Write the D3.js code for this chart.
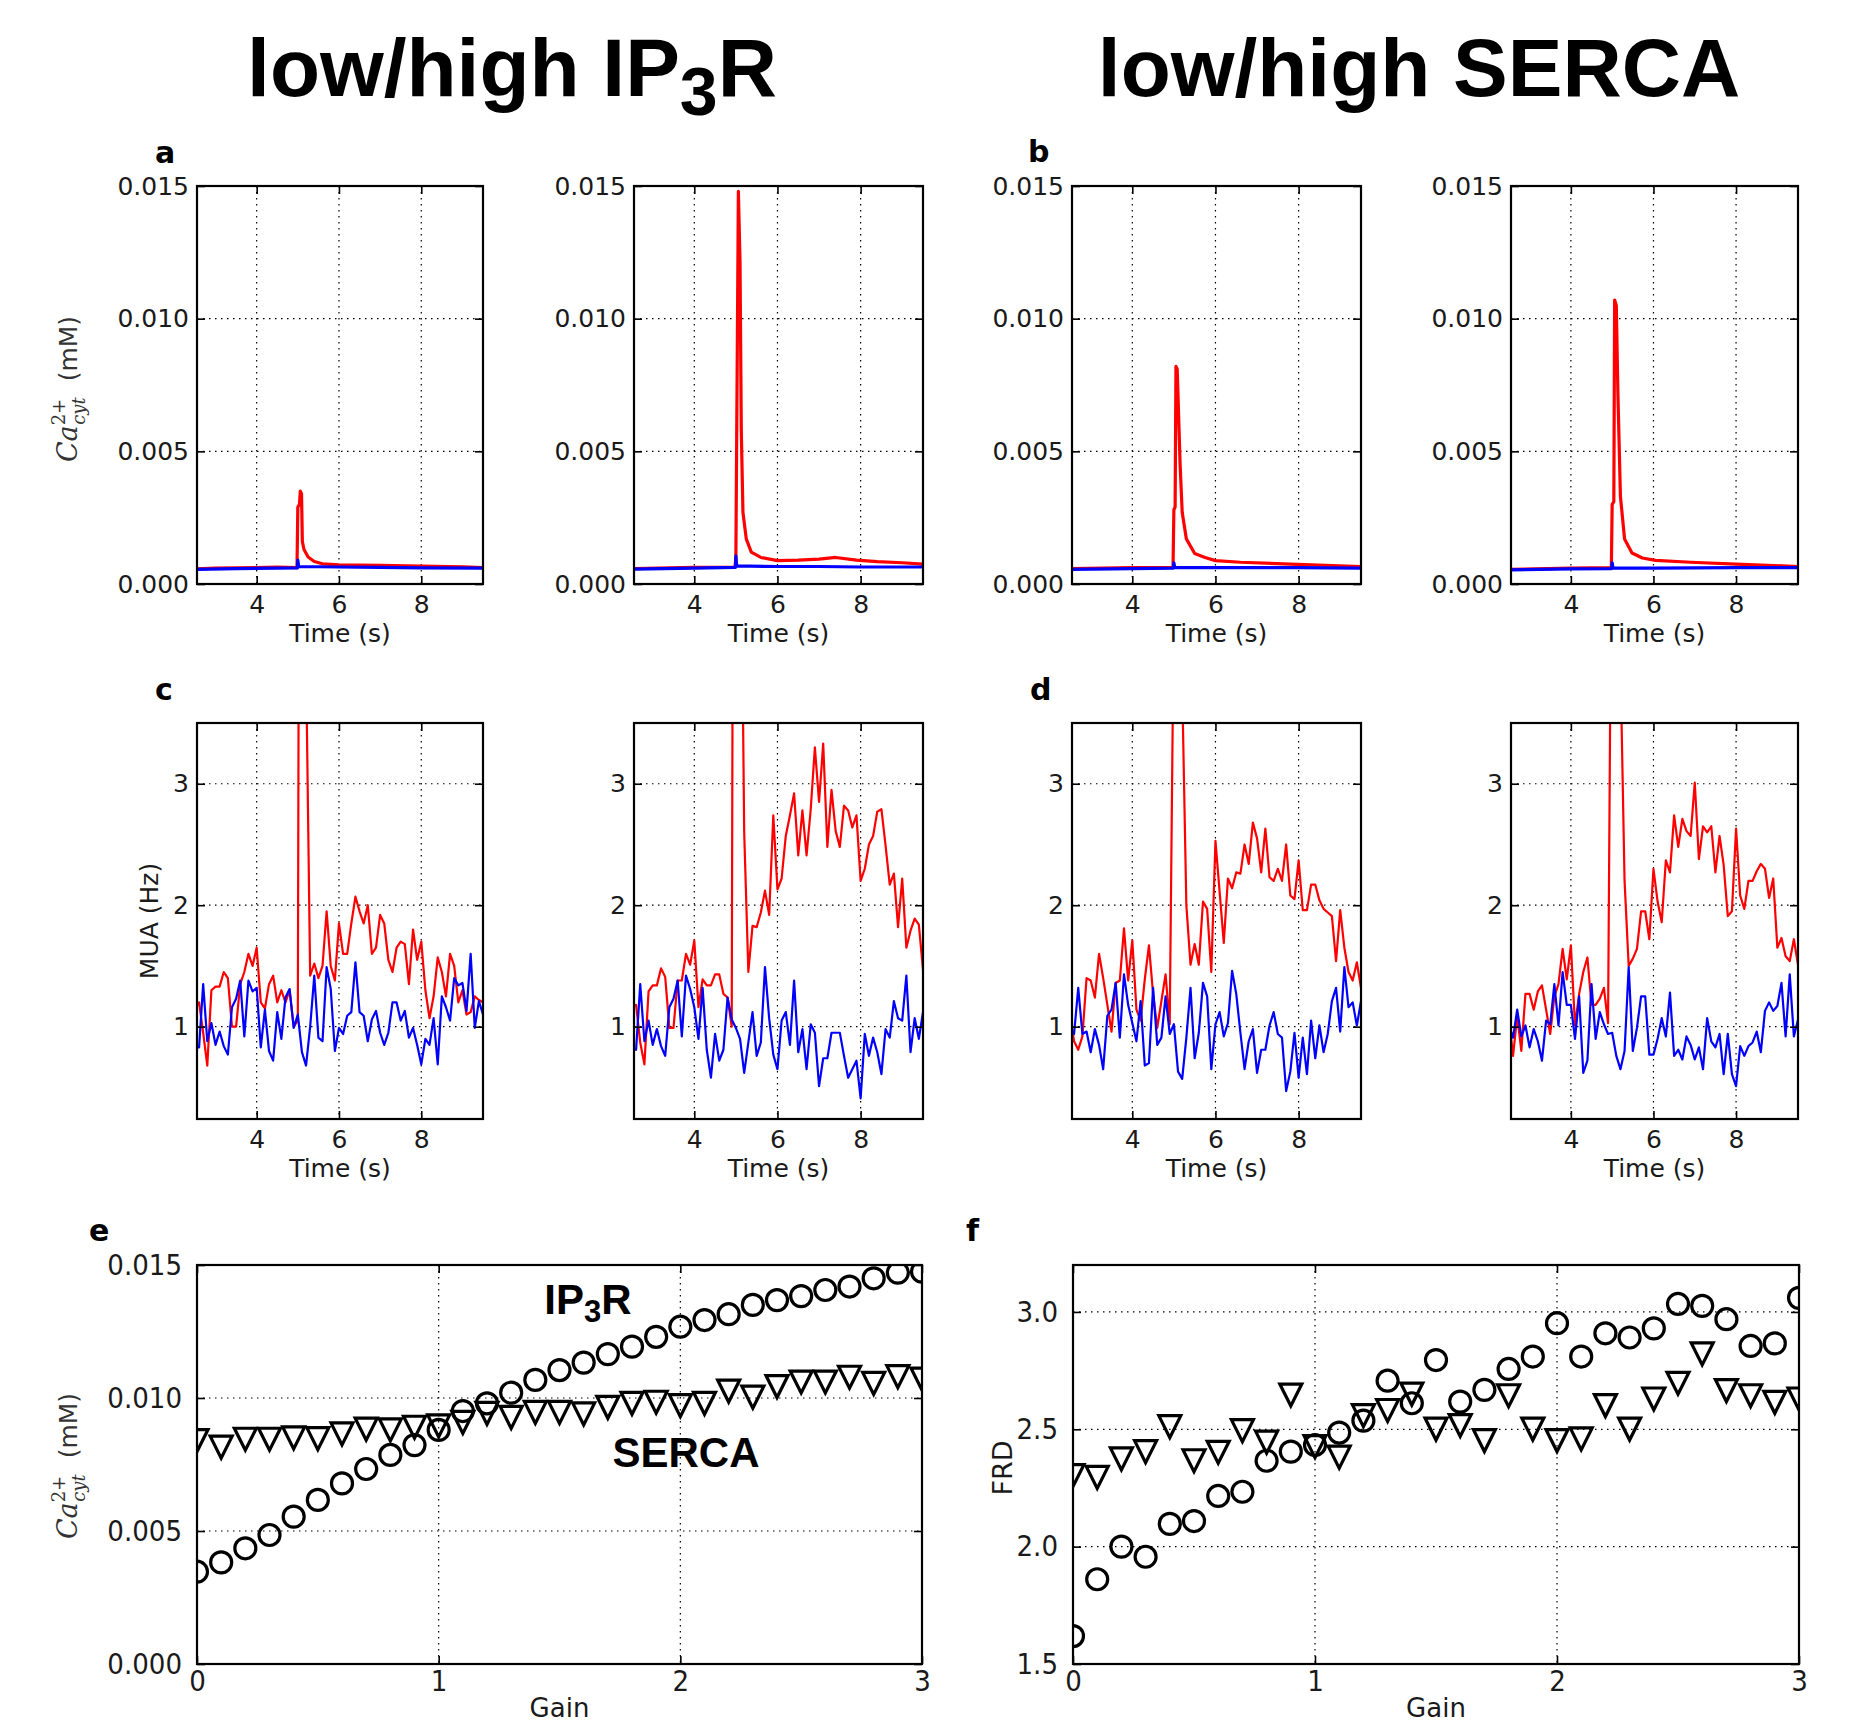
<!DOCTYPE html>
<html>
<head>
<meta charset="utf-8">
<script src="https://cdn.jsdelivr.net/npm/d3@7"></script>
<style>
  body { margin: 0; background: #fff; }
  svg { display: block; background: #fff; }
  .grid line { stroke: #000; stroke-width: 1.2; stroke-dasharray: 1.5 4.5; }
  .tick line { stroke: #000; stroke-width: 1.6; }
  .frame { fill: none; stroke: #000; stroke-width: 2.2; }
</style>
</head>
<body>
<div id="chart"></div>
<script>
// ---- values ----

// MUA traces are binned every 0.1 s
const muaTime = [2.5,2.6,2.7,2.8,2.9,3.0,3.1,3.2,3.3,3.4,3.5,3.6,3.7,3.8,3.9,4.0,4.1,4.2,4.3,4.4,
  4.5,4.6,4.7,4.8,4.9,5.0,5.1,5.2,5.3,5.4,5.5,5.6,5.7,5.8,5.9,6.0,6.1,6.2,6.3,6.4,
  6.5,6.6,6.7,6.8,6.9,7.0,7.1,7.2,7.3,7.4,7.5,7.6,7.7,7.8,7.9,8.0,8.1,8.2,8.3,8.4,
  8.5,8.6,8.7,8.8,8.9,9.0,9.1,9.2,9.3,9.4,9.5];

const muaC1Red = [1.15,1.2,0.95,0.68,1.3,1.33,1.33,1.45,1.4,1.0,1.0,1.35,1.45,1.6,1.5,1.65,1.2,1.15,1.35,1.42,
  1.2,1.3,1.2,1.3,1.0,1.05,15,4.0,1.42,1.52,1.4,1.5,1.95,1.5,1.38,1.85,1.6,1.6,1.85,2.07,
  1.95,1.85,2.0,1.6,1.65,1.92,1.85,1.55,1.45,1.65,1.7,1.68,1.35,1.8,1.55,1.7,1.3,1.07,1.25,1.57,
  1.45,1.25,1.6,1.5,1.2,1.3,1.1,1.12,1.25,1.22,1.2];
const muaC1Blue = [0.83,0.83,1.35,0.88,1.03,0.85,0.96,0.84,0.77,1.16,1.23,1.38,0.92,1.38,1.29,1.32,0.83,1.14,0.8,0.72,
  1.12,0.9,1.24,1.31,0.99,1.1,0.79,0.68,1.0,1.42,0.91,0.88,1.49,1.31,0.8,0.99,0.94,1.09,1.12,1.53,
  1.12,1.09,0.88,1.06,1.13,0.95,0.85,0.95,1.2,1.2,1.05,1.13,0.91,0.99,0.85,0.69,0.9,0.85,1.07,0.69,
  1.25,1.16,1.05,1.4,1.34,1.36,1.13,1.6,0.99,1.21,1.1];
const muaC2Red = [1.16,1.18,0.87,0.69,1.29,1.34,1.34,1.48,1.41,0.99,0.99,1.38,1.38,1.6,1.51,1.71,1.16,1.39,1.34,1.34,
  1.43,1.43,1.27,1.24,1.0,15,6,2.6,1.45,1.83,1.82,1.94,2.12,1.92,2.74,2.13,2.22,2.57,2.74,2.92,
  2.41,2.78,2.41,2.79,3.3,2.85,3.33,2.48,2.95,2.61,2.48,2.82,2.78,2.64,2.74,2.2,2.3,2.5,2.57,2.77,
  2.79,2.49,2.17,2.26,1.82,2.22,1.65,1.79,1.89,1.84,1.47];
const muaC2Blue = [0.83,0.81,1.35,0.88,1.05,0.85,0.98,0.84,0.76,1.16,1.23,1.38,0.92,1.42,1.31,1.16,0.9,1.32,0.81,0.58,
  0.94,0.72,0.81,1.24,1.06,0.99,0.9,0.62,0.87,1.12,0.76,0.87,1.49,1.07,0.77,0.65,1.05,1.12,0.85,1.38,
  0.79,0.98,0.65,1.02,0.95,0.51,0.74,0.74,0.95,0.95,0.95,0.76,0.58,0.65,0.72,0.41,0.94,0.76,0.91,0.79,
  0.61,0.98,0.91,1.21,1.07,1.05,1.42,0.79,1.07,0.9,1.12];
const muaD1Red = [1.09,0.88,0.81,0.92,1.4,1.38,1.24,1.6,1.4,1.18,0.96,1.36,1.38,1.81,1.38,1.71,1.14,1.05,1.39,1.67,
  1.27,0.99,1.21,1.43,1.02,4.5,15,3.8,2.0,1.51,1.68,1.51,2.03,1.97,1.45,2.53,2.11,1.69,2.22,2.14,
  2.27,2.26,2.5,2.34,2.68,2.55,2.27,2.63,2.23,2.2,2.3,2.2,2.5,2.08,2.05,2.37,1.96,1.96,2.17,2.17,
  2.04,1.97,1.94,1.91,1.54,1.96,1.65,1.45,1.38,1.53,1.32];
const muaD1Blue = [0.99,0.94,1.32,0.94,0.96,0.79,0.98,0.85,0.65,1.09,1.14,1.36,0.91,1.43,1.18,1.03,0.88,1.21,0.68,0.7,
  1.32,0.85,0.91,1.25,0.94,1.02,0.63,0.57,0.91,1.32,0.74,0.95,1.36,1.25,0.65,1.02,1.12,0.92,1.03,1.46,
  1.27,0.95,0.65,0.88,0.98,0.62,0.81,0.81,1.01,1.12,0.94,0.91,0.47,0.63,0.95,0.58,0.91,0.61,1.05,0.74,
  1.01,0.79,0.94,1.21,1.32,0.96,1.49,1.16,1.2,1.01,1.21];
const muaD2Red = [1.07,0.76,1.09,0.8,1.27,1.27,1.14,1.29,1.34,1.14,0.94,1.25,1.35,1.64,1.39,1.67,1.01,1.27,1.45,1.57,
  1.18,1.18,1.23,1.32,1.03,6,15,4.0,2.2,1.5,1.56,1.64,1.95,1.95,1.72,2.3,2.03,1.86,2.37,2.27,
  2.74,2.48,2.71,2.61,2.57,3.01,2.38,2.65,2.6,2.65,2.27,2.57,2.33,1.91,1.95,2.63,2.08,1.97,2.2,2.2,
  2.28,2.34,2.3,2.06,2.22,1.65,1.73,1.58,1.54,1.72,1.51];
const muaD2Blue = [1.01,0.91,1.14,0.92,1.01,0.83,0.98,0.88,0.72,1.05,1.02,1.35,1.01,1.45,1.18,1.18,0.9,1.25,0.62,0.72,
  1.35,0.9,1.12,1.02,0.94,0.95,0.76,0.65,0.8,1.49,0.8,0.99,1.25,1.25,0.77,0.77,0.9,1.07,0.92,1.28,
  0.76,0.81,0.73,0.92,0.85,0.73,0.83,0.65,1.07,0.88,0.83,0.94,0.61,0.94,0.61,0.51,0.84,0.76,0.84,0.87,
  0.96,0.79,1.13,1.2,1.13,1.17,1.36,0.92,1.43,0.92,1.06];

// cytosolic calcium traces as [time, mM] points
const caA1Red = [[2.55,0.00057],[3.0,0.0006],[3.5,0.00061],[4.0,0.00062],[4.5,0.00064],[4.98,0.00062],
  [5.0,0.0029],[5.04,0.003],[5.06,0.0035],[5.09,0.0034],[5.11,0.0016],[5.15,0.0013],[5.25,0.00102],
  [5.4,0.00085],[5.6,0.00076],[6.0,0.00072],[7.0,0.0007],[8.0,0.00067],[9.0,0.00065],[9.5,0.00062]];
const caA1Blue = [[2.55,0.00055],[3.5,0.00058],[4.5,0.0006],[4.99,0.00061],[5.0,0.0009],[5.02,0.00066],
  [6.0,0.00064],[7.0,0.00063],[8.0,0.00061],[9.5,0.0006]];
const caA2Red = [[2.55,0.00058],[4.0,0.00063],[4.98,0.00064],[5.0,0.001],[5.06,0.0148],[5.1,0.0121],
  [5.13,0.0058],[5.17,0.0027],[5.25,0.0017],[5.37,0.0012],[5.6,0.001],[6.0,0.00088],[6.5,0.0009],
  [7.0,0.00094],[7.4,0.001],[7.9,0.0009],[8.4,0.00084],[9.0,0.0008],[9.5,0.00075]];
const caA2Blue = [[2.55,0.00056],[4.0,0.0006],[4.99,0.00063],[5.0,0.00106],[5.02,0.00068],[6.0,0.00066],
  [7.0,0.00066],[8.0,0.00064],[9.5,0.00064]];
const caB1Red = [[2.55,0.00058],[4.0,0.00062],[4.98,0.00063],[5.0,0.0028],[5.03,0.0029],[5.05,0.0082],
  [5.08,0.0081],[5.15,0.0045],[5.2,0.0027],[5.3,0.0017],[5.5,0.00115],[5.75,0.001],[6.0,0.00088],
  [6.6,0.00082],[7.8,0.00075],[9.5,0.00066]];
const caB1Blue = [[2.55,0.00055],[4.0,0.00058],[4.99,0.0006],[5.0,0.0008],[5.02,0.00062],[6.0,0.00062],
  [8.0,0.00062],[9.5,0.0006]];
const caB2Red = [[2.55,0.00055],[4.0,0.0006],[4.98,0.00062],[5.0,0.003],[5.04,0.0031],[5.06,0.0107],
  [5.1,0.0105],[5.14,0.0071],[5.2,0.0033],[5.3,0.0017],[5.48,0.00117],[5.73,0.00098],[6.05,0.00089],
  [6.9,0.00082],[8.0,0.00075],[9.5,0.00066]];
const caB2Blue = [[2.55,0.00053],[4.0,0.00057],[4.99,0.00058],[5.0,0.0008],[5.02,0.0006],[6.0,0.0006],
  [8.0,0.00062],[9.5,0.00062]];

// gain sweeps, circles = IP3R, triangles = SERCA
const gain = [0,0.1,0.2,0.3,0.4,0.5,0.6,0.7,0.8,0.9,1.0,1.1,1.2,1.3,1.4,1.5,1.6,1.7,1.8,1.9,
  2.0,2.1,2.2,2.3,2.4,2.5,2.6,2.7,2.8,2.9,3.0];
const caIP3R = [0.00347,0.00382,0.00435,0.00485,0.00554,0.00617,0.00679,0.00733,0.00786,0.00823,0.0088,
  0.00951,0.0098,0.0102,0.01068,0.01105,0.01133,0.01165,0.01193,0.0123,0.01268,0.01293,0.01315,
  0.0135,0.01368,0.01383,0.01406,0.01419,0.0145,0.01471,0.01475];
const caSERCA = [0.0084,0.00815,0.00845,0.00845,0.0085,0.00847,0.00865,0.00883,0.0088,0.0089,0.00895,
  0.00908,0.00942,0.00927,0.00946,0.00946,0.0094,0.00965,0.0098,0.00984,0.00971,0.0098,0.01026,
  0.01003,0.01043,0.0106,0.0106,0.01078,0.01055,0.0108,0.01071];
const frdIP3R = [1.619,1.861,2.0,1.957,2.097,2.109,2.216,2.234,2.366,2.405,2.433,2.486,2.537,2.707,2.611,
  2.795,2.618,2.668,2.757,2.81,2.952,2.81,2.909,2.891,2.93,3.034,3.026,2.969,2.855,2.866,3.06];
const frdSERCA = [2.303,2.295,2.374,2.405,2.511,2.366,2.402,2.494,2.445,2.646,2.426,2.381,2.558,2.58,2.65,
  2.501,2.516,2.452,2.643,2.501,2.452,2.459,2.601,2.501,2.629,2.696,2.821,2.665,2.643,2.615,2.629];

// tick values
const timeTicks = [4, 6, 8];
const caTicks = [0, 0.005, 0.010, 0.015];
const muaTicks = [1, 2, 3];
const gainTicks = [0, 1, 2, 3];
const frdTicks = [1.5, 2.0, 2.5, 3.0];


class Panel {

    constructor(opts) {
        // load in arguments from config object
        this.svg = opts.svg;
        this.id = opts.id;
        this.box = opts.box;            // [left, top, right, bottom] in page px
        this.xDomain = opts.xDomain;
        this.yDomain = opts.yDomain;
        this.xTicks = opts.xTicks;
        this.yTicks = opts.yTicks;
        this.xFormat = opts.xFormat;
        this.yFormat = opts.yFormat;
        this.fontSize = opts.fontSize || 25;
        this.fontFamily = opts.fontFamily || '"DejaVu Sans", sans-serif';
        this.xPad = opts.xPad || 11;
        this.yPad = opts.yPad || 8;
        this.draw();
    }

    draw() {
        const [l, t, r, b] = this.box;
        this.width = r - l;
        this.height = b - t;

        this.g = this.svg.append('g')
            .attr('transform', `translate(${l},${t})`);

        this.g.append('clipPath')
            .attr('id', 'clip-' + this.id)
          .append('rect')
            .attr('width', this.width)
            .attr('height', this.height);

        this.createScales();
        this.addGrid();

        // data goes between the grid and the axes
        this.plot = this.g.append('g')
            .attr('clip-path', `url(#clip-${this.id})`);
        this.axes = this.g.append('g');
        this.addAxes();
    }

    createScales() {
        this.x = d3.scaleLinear()
            .domain(this.xDomain)
            .range([0, this.width]);
        this.y = d3.scaleLinear()
            .domain(this.yDomain)
            .range([this.height, 0]);
    }

    addGrid() {
        const grid = this.g.append('g').attr('class', 'grid');
        grid.selectAll('.gx')
            .data(this.xTicks)
            .join('line')
            .attr('class', 'gx')
            .attr('x1', d => this.x(d)).attr('x2', d => this.x(d))
            .attr('y1', 0).attr('y2', this.height);
        grid.selectAll('.gy')
            .data(this.yTicks)
            .join('line')
            .attr('class', 'gy')
            .attr('x1', 0).attr('x2', this.width)
            .attr('y1', d => this.y(d)).attr('y2', d => this.y(d));
    }

    addAxes() {
        const clean = g => {
            g.select('.domain').remove();
            g.attr('font-size', this.fontSize)
             .attr('font-family', this.fontFamily);
            g.selectAll('.tick text').attr('fill', '#1a1a1a');
        };

        // ticks point inward on all four sides, labels only bottom/left
        const xAxis = d3.axisBottom(this.x)
            .tickValues(this.xTicks)
            .tickFormat(this.xFormat)
            .tickSizeInner(-8)
            .tickSizeOuter(0)
            .tickPadding(this.xPad);
        const yAxis = d3.axisLeft(this.y)
            .tickValues(this.yTicks)
            .tickFormat(this.yFormat)
            .tickSizeInner(-8)
            .tickSizeOuter(0)
            .tickPadding(this.yPad);

        this.axes.append('g')
            .attr('transform', `translate(0,${this.height})`)
            .call(xAxis).call(clean);
        this.axes.append('g')
            .call(yAxis).call(clean);
        this.axes.append('g')
            .call(d3.axisTop(this.x).tickValues(this.xTicks).tickFormat('').tickSizeInner(-8).tickSizeOuter(0))
            .call(clean);
        this.axes.append('g')
            .attr('transform', `translate(${this.width},0)`)
            .call(d3.axisRight(this.y).tickValues(this.yTicks).tickFormat('').tickSizeInner(-8).tickSizeOuter(0))
            .call(clean);

        this.axes.append('rect')
            .attr('class', 'frame')
            .attr('width', this.width)
            .attr('height', this.height);
    }

    addSeries(xs, ys, color, width) {
        const line = d3.line()
            .x((d, i) => this.x(xs[i]))
            .y(d => this.y(d));
        this.plot.append('path')
            .datum(ys)
            .attr('d', line)
            .attr('fill', 'none')
            .attr('stroke', color)
            .attr('stroke-width', width)
            .attr('stroke-linejoin', 'round');
    }

    addPairs(pts, color, width) {
        const line = d3.line()
            .x(d => this.x(d[0]))
            .y(d => this.y(d[1]));
        this.plot.append('path')
            .datum(pts)
            .attr('d', line)
            .attr('fill', 'none')
            .attr('stroke', color)
            .attr('stroke-width', width)
            .attr('stroke-linejoin', 'round');
    }

    addCircles(xs, ys) {
        this.plot.append('g')
            .selectAll('circle')
            .data(ys)
            .join('circle')
            .attr('cx', (d, i) => this.x(xs[i]))
            .attr('cy', d => this.y(d))
            .attr('r', 10.5)
            .attr('fill', 'none')
            .attr('stroke', '#000')
            .attr('stroke-width', 3.2);
    }

    addTriangles(xs, ys) {
        const s = 11;
        this.plot.append('g')
            .selectAll('path')
            .data(ys)
            .join('path')
            .attr('transform', (d, i) => `translate(${this.x(xs[i])},${this.y(d)})`)
            .attr('d', `M${-s},${-s}L${s},${-s}L0,${s}Z`)
            .attr('fill', 'none')
            .attr('stroke', '#000')
            .attr('stroke-width', 3.2)
            .attr('stroke-linejoin', 'miter');
    }

    // baseline is measured down from the bottom of the frame
    xLabel(text, below, size, family) {
        this.g.append('text')
            .attr('x', this.width / 2)
            .attr('y', this.height + below)
            .attr('text-anchor', 'middle')
            .attr('font-family', family || this.fontFamily)
            .attr('font-size', size || this.fontSize)
            .attr('fill', '#1a1a1a')
            .text(text);
    }
}

// ------

const W = 1854, H = 1725;
const svg = d3.select('#chart').append('svg')
    .attr('width', W)
    .attr('height', H);

const fmt3 = d3.format('.3f');
const fmtD = d3.format('d');
const fmt1 = d3.format('.1f');

// column boxes of the two top rows
const cols = [[197, 483], [634, 923], [1072, 1361], [1511, 1798]];
const caTraces = [[caA1Red, caA1Blue], [caA2Red, caA2Blue], [caB1Red, caB1Blue], [caB2Red, caB2Blue]];
const muaTraces = [[muaC1Red, muaC1Blue], [muaC2Red, muaC2Blue], [muaD1Red, muaD1Blue], [muaD2Red, muaD2Blue]];

cols.forEach((c, i) => {
    const top = new Panel({
        svg, id: 'ca' + i, box: [c[0], 186, c[1], 584],
        xDomain: [2.55, 9.5], yDomain: [0, 0.015],
        xTicks: timeTicks, yTicks: caTicks, xFormat: fmtD, yFormat: fmt3
    });
    top.addPairs(caTraces[i][0], '#ff0000', 3.2);
    top.addPairs(caTraces[i][1], '#0000ff', 3.2);
    top.xLabel('Time (s)', 58);

    const mid = new Panel({
        svg, id: 'mua' + i, box: [c[0], 723, c[1], 1119],
        xDomain: [2.55, 9.5], yDomain: [0.24, 3.5],
        xTicks: timeTicks, yTicks: muaTicks, xFormat: fmtD, yFormat: fmtD
    });
    mid.addSeries(muaTime, muaTraces[i][0], '#ff0000', 2.2);
    mid.addSeries(muaTime, muaTraces[i][1], '#0000ff', 2.2);
    mid.xLabel('Time (s)', 58);
});

const condensed = '"DejaVu Sans Condensed", "DejaVu Sans", sans-serif';

const pe = new Panel({
    svg, id: 'e', box: [197, 1265, 922, 1664],
    xDomain: [0, 3], yDomain: [0, 0.015],
    xTicks: gainTicks, yTicks: caTicks, xFormat: fmtD, yFormat: fmt3,
    fontSize: 29, fontFamily: condensed, xPad: 6, yPad: 15
});
pe.addCircles(gain, caIP3R);
pe.addTriangles(gain, caSERCA);
pe.xLabel('Gain', 53, 26, '"DejaVu Sans", sans-serif');

const pf = new Panel({
    svg, id: 'f', box: [1073, 1265, 1799, 1664],
    xDomain: [0, 3], yDomain: [1.5, 3.2],
    xTicks: gainTicks, yTicks: frdTicks, xFormat: fmtD, yFormat: fmt1,
    fontSize: 29, fontFamily: condensed, xPad: 6, yPad: 15
});
pf.addCircles(gain, frdIP3R);
pf.addTriangles(gain, frdSERCA);
pf.xLabel('Gain', 53, 26, '"DejaVu Sans", sans-serif');

// ---- annotations ----

const bold = '"Liberation Sans", Arial, sans-serif';

function title(cx, y, parts) {
    const t = svg.append('text')
        .attr('x', cx).attr('y', y)
        .attr('text-anchor', 'middle')
        .attr('font-family', bold)
        .attr('font-weight', 'bold')
        .attr('fill', '#000');
    parts.forEach(p => {
        t.append('tspan')
            .attr('font-size', p.size)
            .attr('dy', p.dy || 0)
            .text(p.text);
    });
}

title(512, 96, [{text: 'low/high IP', size: 82}, {text: '3', size: 68, dy: 19}, {text: 'R', size: 82, dy: -19}]);
title(1419, 96, [{text: 'low/high SERCA', size: 82}]);
title(588, 1314, [{text: 'IP', size: 42}, {text: '3', size: 31, dy: 8}, {text: 'R', size: 42, dy: -8}]);
title(686, 1467, [{text: 'SERCA', size: 42}]);

// panel letters
[['a', 155, 163], ['b', 1028, 162], ['c', 155, 700], ['d', 1030, 700], ['e', 89, 1241], ['f', 966, 1241]]
    .forEach(([s, x, y]) => {
        svg.append('text')
            .attr('x', x).attr('y', y)
            .attr('font-family', '"DejaVu Sans", sans-serif')
            .attr('font-weight', 'bold')
            .attr('font-size', 30)
            .text(s);
    });

// Ca2+ cyt label with the math bits as tspans
function caLabel(cx, cy) {
    const t = svg.append('text')
        .attr('transform', `translate(${cx},${cy}) rotate(-90)`)
        .attr('text-anchor', 'middle')
        .attr('fill', '#333');
    t.append('tspan')
        .attr('font-family', '"DejaVu Serif", serif')
        .attr('font-style', 'italic')
        .attr('font-size', 27)
        .text('Ca');
    t.append('tspan')
        .attr('font-family', '"DejaVu Serif", serif')
        .attr('font-size', 18)
        .attr('dy', -12)
        .text('2+');
    t.append('tspan')
        .attr('font-family', '"DejaVu Serif", serif')
        .attr('font-style', 'italic')
        .attr('font-size', 18)
        .attr('dx', -26)
        .attr('dy', 20)
        .text('cyt');
    t.append('tspan')
        .attr('font-family', '"DejaVu Sans", sans-serif')
        .attr('font-size', 25)
        .attr('dx', 16)
        .attr('dy', -8)
        .text('(mM)');
}
caLabel(77, 389);
caLabel(77, 1466);

function vLabel(cx, cy, text, size) {
    svg.append('text')
        .attr('transform', `translate(${cx},${cy}) rotate(-90)`)
        .attr('text-anchor', 'middle')
        .attr('font-family', '"DejaVu Sans", sans-serif')
        .attr('font-size', size || 25)
        .attr('fill', '#1a1a1a')
        .text(text);
}
vLabel(158, 921, 'MUA (Hz)');
vLabel(1012, 1468, 'FRD', 27);
</script>
</body>
</html>
